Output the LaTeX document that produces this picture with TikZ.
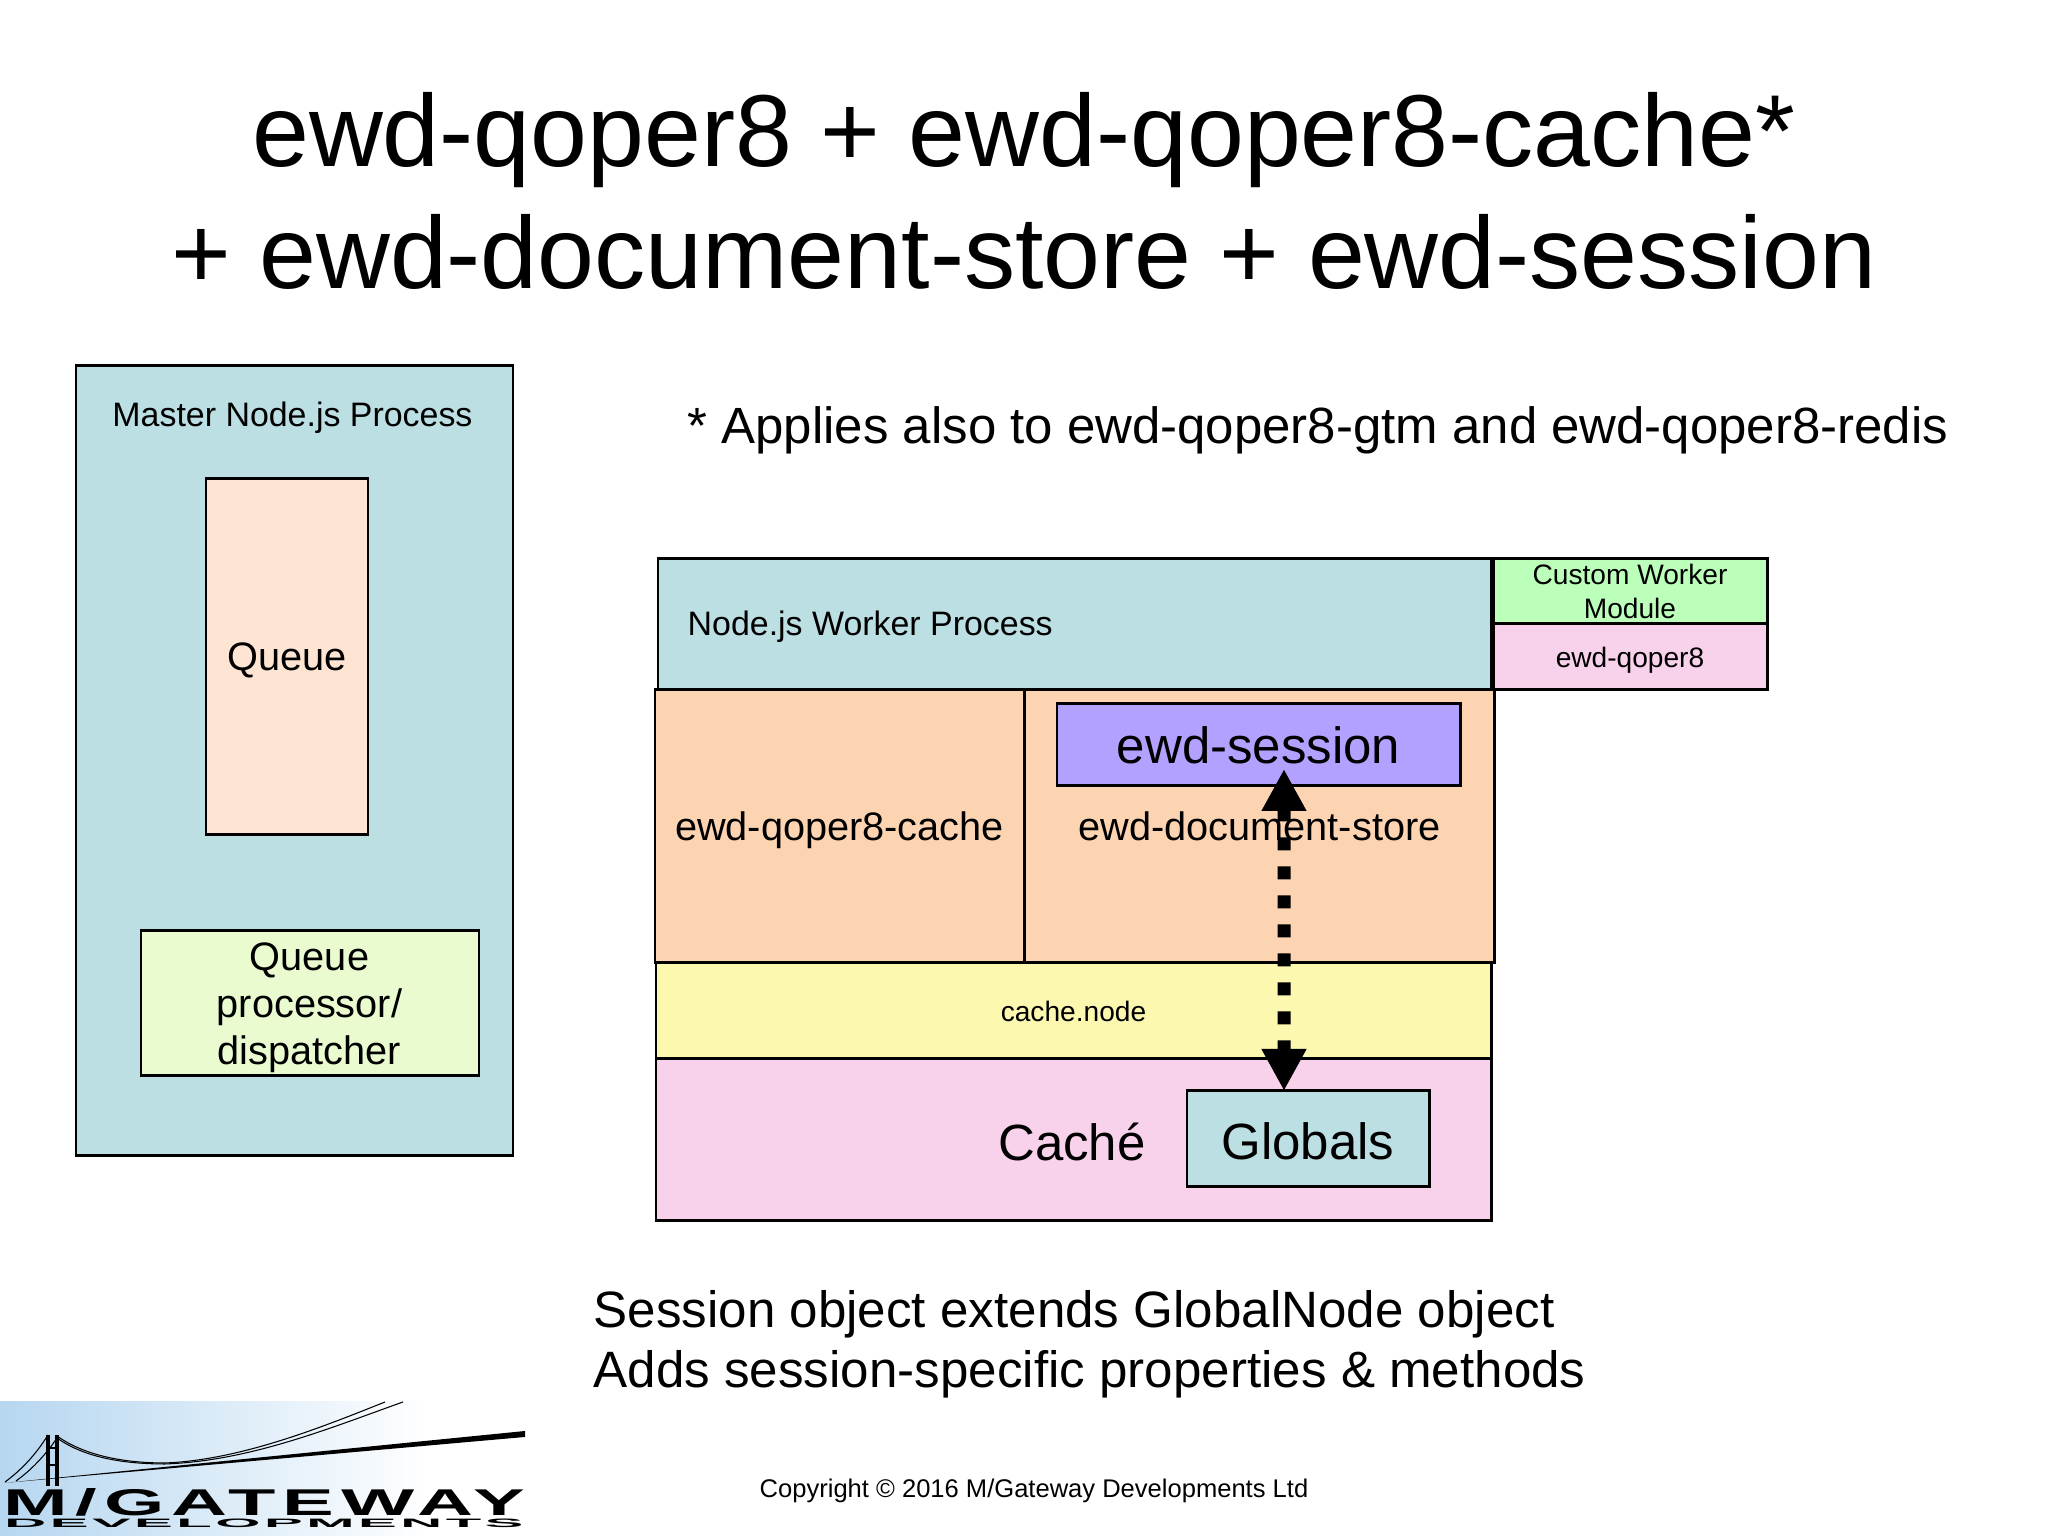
\documentclass[tikz,border=0pt]{standalone}
\usepackage{fontspec}
\setmainfont{Liberation Sans}
\usetikzlibrary{arrows.meta}
\definecolor{masterblue}{HTML}{BBDFE2}
\definecolor{queuepeach}{HTML}{FDE4D3}
\definecolor{procgreen}{HTML}{E9FBCF}
\definecolor{cacheorange}{HTML}{FCD4B1}
\definecolor{nodeyellow}{HTML}{FCF8B0}
\definecolor{cachepink}{HTML}{F7D2EA}
\definecolor{sessionpurple}{HTML}{B4A0FF}
\definecolor{customgreen}{HTML}{BBFFBB}
\definecolor{logoblue}{HTML}{B6D6F0}
\tikzset{
	box/.style={shape=rectangle,draw=black,line width=.85pt,inner sep=0pt,outer sep=0pt,align=center},
	tiny/.style={font=\fontsize{8}{9.7}\selectfont},
	small/.style={font=\fontsize{9.65}{11.6}\selectfont},
	mid/.style={font=\fontsize{11.3}{13.4}\selectfont},
	big/.style={font=\fontsize{14.5}{17.1}\selectfont},
	title/.style={font=\fontsize{29.1}{34.5}\selectfont,align=center},
}
\begin{document}
\begin{tikzpicture}
	\useasboundingbox (0,0) rectangle (20.48,15.36);
	\node[title] (heading) at (10.24,13.45) {ewd-qoper8 + ewd-qoper8-cache*\\+ ewd-document-store + ewd-session};
	\node[box,fill=masterblue,minimum width=4.37cm,minimum height=7.9cm] (master) at (2.945,7.75) {};
	\node[small] (masterlabel) at (2.925,11.18) {Master Node.js Process};
	\node[box,mid,fill=queuepeach,text depth=0pt,minimum width=1.62cm,minimum height=3.56cm] (queue) at (2.87,8.79) {Queue};
	\node[box,fill=procgreen,minimum width=3.38cm,minimum height=1.45cm] (proc) at (3.10,5.325) {};
	\node[mid,align=center] (proclabel) at (3.095,5.285) {Queue\\processor/\\dispatcher};
	\node[big,anchor=west,inner sep=0pt] (applies) at (6.87,11.06) {* Applies also to ewd-qoper8-gtm and ewd-qoper8-redis};
	\node[box,fill=masterblue,minimum width=8.33cm,minimum height=1.31cm] (worker) at (10.745,9.115) {};
	\node[small,anchor=west,inner sep=0pt] (workerlabel) at (6.87,9.095) {Node.js Worker Process};
	\node[box,tiny,fill=customgreen,minimum width=2.74cm,minimum height=.65cm] (custom) at (16.30,9.445) {Custom Worker\\Module};
	\node[box,tiny,fill=cachepink,text depth=0pt,minimum width=2.74cm,minimum height=.66cm] (qoper) at (16.30,8.79) {ewd-qoper8};
	\node[box,mid,fill=cacheorange,text depth=0pt,minimum width=3.69cm,minimum height=2.73cm] (qcache) at (8.395,7.095) {ewd-qoper8-cache};
	\node[box,mid,fill=cacheorange,minimum width=4.69cm,minimum height=2.73cm] (docstore) at (12.595,7.095) {ewd-document-store};
	\node[box,big,fill=sessionpurple,minimum width=4.03cm,minimum height=.82cm] (session) at (12.585,7.91) {ewd-session};
	\node[box,tiny,fill=nodeyellow,minimum width=8.35cm,minimum height=.96cm] (cachenode) at (10.735,5.25) {cache.node};
	\node[box,fill=cachepink,minimum width=8.35cm,minimum height=1.62cm] (cache) at (10.735,3.96) {};
	\node[big] (cachelabel) at (10.72,3.94) {Caché};
	\node[box,big,fill=masterblue,text height=12pt,minimum width=2.42cm,minimum height=.96cm] (globals) at (13.08,3.97) {Globals};
	\draw[line width=.13cm,dash pattern=on .13cm off .16cm,{Triangle[width=.42cm,length=.42cm]}-{Triangle[width=.42cm,length=.42cm]}] ([xshift=.255cm,yshift=.17cm]session.south) -- ([xshift=-.24cm]globals.north);
	\node[font=\fontsize{14.55}{17.1}\selectfont,anchor=west,align=left,inner sep=0pt] (note) at (5.93,1.915) {Session object extends GlobalNode object\\Adds session-specific properties \& methods};
	\node[font=\fontsize{7.27}{8.7}\selectfont] (copyright) at (10.34,.45) {Copyright © 2016 M/Gateway Developments Ltd};
	\shade[left color=logoblue,right color=white,draw=none] (0,0) rectangle (4.3,1.34);
	\fill[black] (.04,.53) -- (5.25,1.05) -- (5.25,.99) -- cycle;
	\draw[line width=.9pt] (.48,1.01) -- (.48,.50);
	\draw[line width=.9pt] (.57,1.01) -- (.57,.50);
	\draw[line width=.6pt] (.48,.88) -- (.57,.88);
	\draw[line width=.6pt] (.48,.71) -- (.57,.71);
	\draw[line width=.3pt] (.05,.54) .. controls (.2,.65) and (.35,.8) .. (.48,1.01);
	\draw[line width=.3pt] (.16,.55) .. controls (.3,.65) and (.45,.8) .. (.57,.98);
	\draw[line width=.3pt] (.57,1.00) .. controls (.85,.8) and (1.25,.73) .. (1.65,.73) .. controls (2.4,.76) and (3.2,1.08) .. (3.85,1.34);
	\draw[line width=.3pt] (.57,.98) .. controls (.85,.78) and (1.25,.72) .. (1.65,.72) .. controls (2.5,.75) and (3.3,1.08) .. (4.03,1.34);
	\node[inner sep=0pt] (logotop) at (2.645,.335) {\resizebox{5.21cm}{.27cm}{\addfontfeatures{LetterSpace=9}\bfseries M/GATEWAY}};
	\node[inner sep=0pt] (logobottom) at (2.64,.13) {\resizebox{5.19cm}{.085cm}{\addfontfeatures{LetterSpace=6}\bfseries DEVELOPMENTS}};
\end{tikzpicture}
\end{document}
